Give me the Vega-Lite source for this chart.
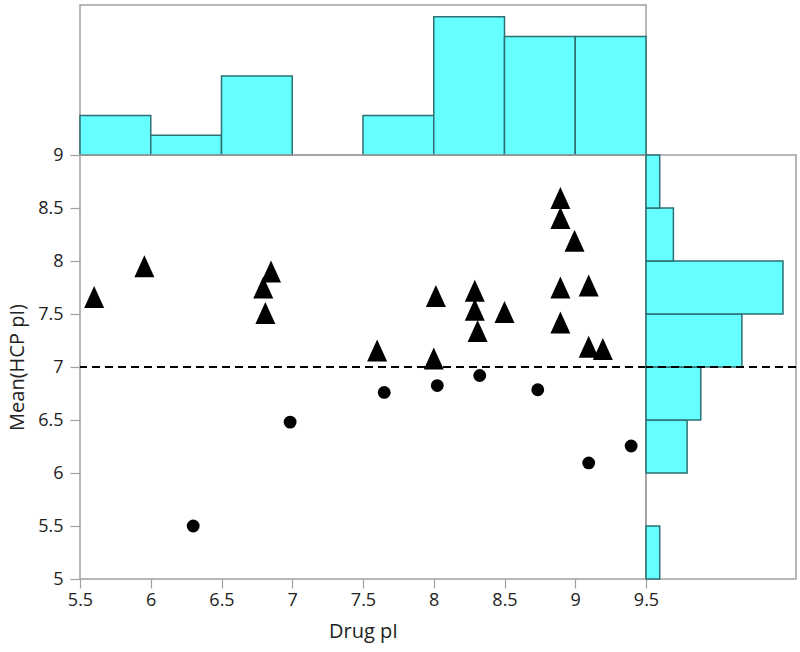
{
  "$schema": "https://vega.github.io/schema/vega-lite/v6.json",
  "background": "white",
  "padding": {"left": 6, "top": 4, "right": 4, "bottom": 5},
  "spacing": 0,
  "bounds": "flush",
  "config": {
    "font": "Open Sans",
    "view": {"stroke": "#a0a0a0", "strokeWidth": 1.5},
    "axis": {
      "grid": false,
      "domain": false,
      "labelFlush": false,
      "labelOverlap": false,
      "tickColor": "#a0a0a0",
      "tickWidth": 1.2,
      "labelColor": "#222222",
      "labelFontSize": 18,
      "titleColor": "#222222",
      "titleFontSize": 20,
      "titleFontWeight": "normal"
    }
  },
  "datasets": {
    "points": [
      {"x": 5.60, "y": 7.66, "g": "A"},
      {"x": 5.955, "y": 7.95, "g": "A"},
      {"x": 6.85, "y": 7.90, "g": "A"},
      {"x": 6.795, "y": 7.75, "g": "A"},
      {"x": 6.81, "y": 7.51, "g": "A"},
      {"x": 7.60, "y": 7.155, "g": "A"},
      {"x": 8.00, "y": 7.08, "g": "A"},
      {"x": 8.015, "y": 7.67, "g": "A"},
      {"x": 8.29, "y": 7.72, "g": "A"},
      {"x": 8.29, "y": 7.54, "g": "A"},
      {"x": 8.31, "y": 7.34, "g": "A"},
      {"x": 8.50, "y": 7.52, "g": "A"},
      {"x": 8.895, "y": 8.595, "g": "A"},
      {"x": 8.895, "y": 8.405, "g": "A"},
      {"x": 8.995, "y": 8.19, "g": "A"},
      {"x": 8.895, "y": 7.75, "g": "A"},
      {"x": 9.095, "y": 7.77, "g": "A"},
      {"x": 8.895, "y": 7.42, "g": "A"},
      {"x": 9.095, "y": 7.19, "g": "A"},
      {"x": 9.195, "y": 7.17, "g": "A"},
      {"x": 6.30, "y": 5.50, "g": "B"},
      {"x": 6.985, "y": 6.48, "g": "B"},
      {"x": 7.65, "y": 6.76, "g": "B"},
      {"x": 8.025, "y": 6.825, "g": "B"},
      {"x": 8.325, "y": 6.92, "g": "B"},
      {"x": 8.735, "y": 6.785, "g": "B"},
      {"x": 9.095, "y": 6.095, "g": "B"},
      {"x": 9.395, "y": 6.255, "g": "B"}
    ],
    "histX": [
      {"lo": 5.5, "hi": 6.0, "n": 2},
      {"lo": 6.0, "hi": 6.5, "n": 1},
      {"lo": 6.5, "hi": 7.0, "n": 4},
      {"lo": 7.5, "hi": 8.0, "n": 2},
      {"lo": 8.0, "hi": 8.5, "n": 7},
      {"lo": 8.5, "hi": 9.0, "n": 6},
      {"lo": 9.0, "hi": 9.5, "n": 6}
    ],
    "histY": [
      {"lo": 5.0, "hi": 5.5, "n": 1},
      {"lo": 6.0, "hi": 6.5, "n": 3},
      {"lo": 6.5, "hi": 7.0, "n": 4},
      {"lo": 7.0, "hi": 7.5, "n": 7},
      {"lo": 7.5, "hi": 8.0, "n": 10},
      {"lo": 8.0, "hi": 8.5, "n": 2},
      {"lo": 8.5, "hi": 9.0, "n": 1}
    ],
    "ref": [{"v": 7}]
  },
  "vconcat": [
    {
      "width": 566,
      "height": 150,
      "data": {"name": "histX"},
      "mark": {"type": "rect", "fill": "#66FFFF", "stroke": "#2d6f72", "strokeWidth": 1.5},
      "encoding": {
        "x": {"field": "lo", "type": "quantitative", "scale": {"domain": [5.5, 9.5], "nice": false, "zero": false}, "axis": null},
        "x2": {"field": "hi"},
        "y": {"field": "n", "type": "quantitative", "scale": {"domain": [0, 7.6], "nice": false}, "axis": null},
        "y2": {"datum": 0}
      }
    },
    {
      "spacing": 0,
      "bounds": "flush",
      "hconcat": [
        {
          "width": 566,
          "height": 424,
          "layer": [
            {
              "data": {"name": "points"},
              "mark": {"type": "point", "filled": true, "opacity": 1, "color": "black"},
              "encoding": {
                "x": {"field": "x", "type": "quantitative", "title": "Drug pI",
                  "scale": {"domain": [5.5, 9.5], "nice": false, "zero": false},
                  "axis": {"values": [5.5, 6, 6.5, 7, 7.5, 8, 8.5, 9, 9.5], "format": ".1~f", "tickSize": 9, "labelPadding": 3, "titlePadding": 12}},
                "y": {"field": "y", "type": "quantitative", "title": "Mean(HCP pI)",
                  "scale": {"domain": [5, 9], "nice": false, "zero": false},
                  "axis": {"values": [5, 5.5, 6, 6.5, 7, 7.5, 8, 8.5, 9], "format": ".1~f", "tickSize": 10, "labelPadding": 7, "titlePadding": 10}},
                "shape": {"field": "g", "type": "nominal", "legend": null,
                  "scale": {"domain": ["A", "B"], "range": ["M0,-1.1L1,1.1L-1,1.1Z", "circle"]}},
                "size": {"field": "g", "type": "nominal", "legend": null,
                  "scale": {"domain": ["A", "B"], "range": [400, 165]}}
              }
            },
            {
              "data": {"name": "ref"},
              "mark": {"type": "rule", "color": "black", "strokeWidth": 1.8, "strokeDash": [8, 5]},
              "encoding": {"y": {"field": "v", "type": "quantitative"}}
            }
          ]
        },
        {
          "width": 150,
          "height": 424,
          "layer": [
            {
              "data": {"name": "histY"},
              "mark": {"type": "rect", "fill": "#66FFFF", "stroke": "#2d6f72", "strokeWidth": 1.5},
              "encoding": {
                "y": {"field": "lo", "type": "quantitative", "scale": {"domain": [5, 9], "nice": false, "zero": false}, "axis": null},
                "y2": {"field": "hi"},
                "x": {"field": "n", "type": "quantitative", "scale": {"domain": [0, 10.95], "nice": false}, "axis": null},
                "x2": {"datum": 0}
              }
            },
            {
              "data": {"name": "ref"},
              "mark": {"type": "rule", "color": "black", "strokeWidth": 1.8, "strokeDash": [8, 5]},
              "encoding": {"y": {"field": "v", "type": "quantitative", "scale": {"domain": [5, 9]}, "axis": null}}
            }
          ]
        }
      ]
    }
  ]
}
